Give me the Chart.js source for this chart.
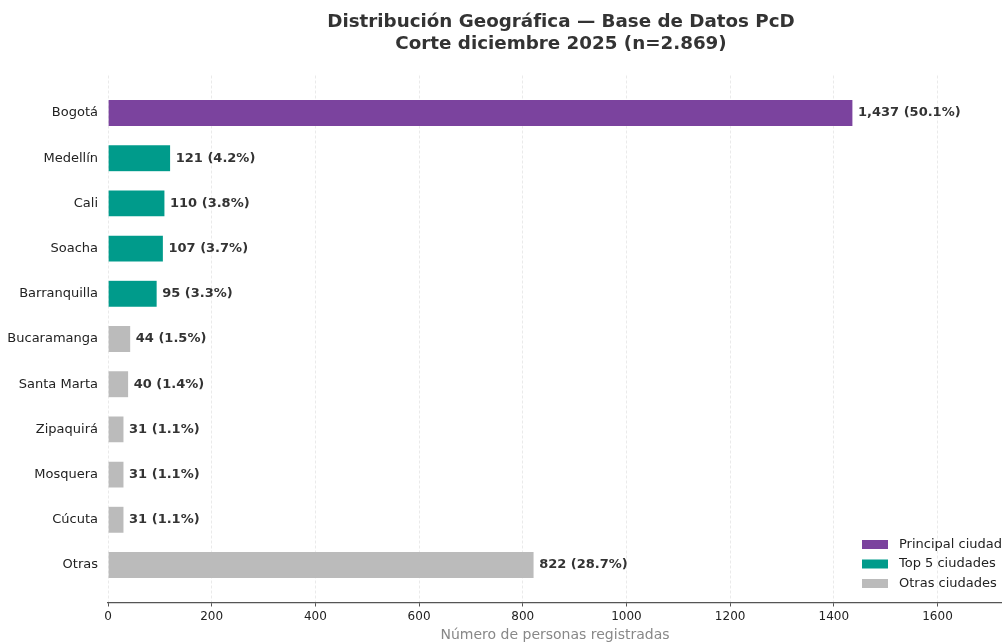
<!DOCTYPE html>
<html lang="es">
<head>
<meta charset="UTF-8">
<title>Distribución Geográfica — Base de Datos PcD</title>
<script src="https://cdn.jsdelivr.net/npm/chart.js"></script>
<style>
    body { margin: 0; background: #fff; }
    canvas { display: block; }
</style>
</head>
<body>
<canvas id="geoChart" width="1002" height="644"></canvas>
<script>
    // datos
    const cities = ["Bogotá", "Medellín", "Cali", "Soacha", "Barranquilla", "Bucaramanga",
                    "Santa Marta", "Zipaquirá", "Mosquera", "Cúcuta", "Otras"];
    const counts = [1437, 121, 110, 107, 95, 44, 40, 31, 31, 31, 822];
    const groups = ["principal", "top", "top", "top", "top", "otras",
                    "otras", "otras", "otras", "otras", "otras"];
    const totalN = 2869;
    const xTicks = [0, 200, 400, 600, 800, 1000, 1200, 1400, 1600];

    const groupNames = ["Principal ciudad", "Top 5 ciudades", "Otras ciudades"];
    const groupKeys = ["principal", "top", "otras"];
    const groupColors = { principal: "#7b439e", top: "#009b8b", otras: "#bbbbbb" };

    const titleLines = ["Distribución Geográfica — Base de Datos PcD", "Corte diciembre 2025 (n=2.869)"];
    const FONT = "'DejaVu Sans', sans-serif";

    const titlePlugin = {
        id: "mplTitle",
        afterDraw(chart) {
            const { ctx, chartArea } = chart;
            // the original axes run a little past the right edge of the picture
            const cx = (chartArea.left + chartArea.right + 12) / 2;
            ctx.save();
            ctx.font = "bold 18.3px " + FONT;
            ctx.fillStyle = "#333";
            ctx.textAlign = "center";
            ctx.textBaseline = "middle";
            ctx.fillText(titleLines[0], cx, 22);
            ctx.fillText(titleLines[1], cx, 44);
            ctx.restore();
        }
    };

    const valueLabels = {
        id: "valueLabels",
        afterDatasetsDraw(chart) {
            const { ctx } = chart;
            const meta = chart.getDatasetMeta(0);
            ctx.save();
            ctx.font = "bold 13px " + FONT;
            ctx.fillStyle = "#333";
            ctx.textAlign = "left";
            ctx.textBaseline = "middle";
            meta.data.forEach((bar, i) => {
                const v = counts[i];
                const pct = (v / totalN * 100).toFixed(1);
                ctx.fillText(v.toLocaleString("en-US") + " (" + pct + "%)", bar.x + 5, bar.y);
            });
            ctx.restore();
        }
    };

    const boxLegend = {
        id: "boxLegend",
        afterDraw(chart) {
            const { ctx, chartArea } = chart;
            const x0 = chartArea.right - 140;
            ctx.save();
            ctx.font = "13px " + FONT;
            ctx.textBaseline = "middle";
            groupKeys.forEach((k, i) => {
                const y = chartArea.bottom - 58 + i * 19.5;
                ctx.fillStyle = groupColors[k];
                ctx.fillRect(x0, y - 4.5, 26, 9);
                ctx.fillStyle = "#222";
                ctx.fillText(groupNames[i], x0 + 37, y);
            });
            ctx.restore();
        }
    };

    new Chart(document.getElementById("geoChart"), {
        type: "bar",
        data: {
            datasets: [{
                data: counts.map((v, i) => ({ x: v, y: i })),
                backgroundColor: groups.map(g => groupColors[g]),
                borderColor: "rgba(255,255,255,0.5)",
                borderWidth: 0.6,
                barPercentage: 0.6,
                categoryPercentage: 1
            }]
        },
        options: {
            indexAxis: "y",
            responsive: false,
            animation: false,
            layout: { padding: { top: 75.5, left: 0, right: 0, bottom: 0 } },
            plugins: {
                legend: { display: false },
                tooltip: { enabled: false },
                title: { display: false }
            },
            scales: {
                x: {
                    type: "linear",
                    position: "bottom",
                    min: 0,
                    max: 1724.4,
                    afterBuildTicks(scale) {
                        scale.ticks = xTicks.map(v => ({ value: v }));
                    },
                    afterFit(scale) { scale.height = 41.5; },
                    ticks: {
                        callback: v => String(v),
                        font: { family: FONT, size: 12 },
                        color: "#222",
                        padding: 3,
                        maxRotation: 0
                    },
                    grid: {
                        color: "#e4e4e4",
                        lineWidth: 0.8,
                        drawTicks: true,
                        tickLength: 4,
                        tickColor: "#555",
                        tickWidth: 1,
                        tickBorderDash: []
                    },
                    border: { display: true, color: "#555", width: 1.2, dash: [3, 2] },
                    title: {
                        display: true,
                        text: "Número de personas registradas",
                        color: "#888",
                        font: { family: FONT, size: 14 },
                        padding: { top: 0, bottom: 0 }
                    }
                },
                y: {
                    type: "linear",
                    reverse: true,
                    offset: false,
                    min: -0.83,
                    max: 10.83,
                    afterBuildTicks(scale) {
                        scale.ticks = cities.map((c, i) => ({ value: i }));
                    },
                    afterFit(scale) { scale.width = 108; },
                    ticks: {
                        callback: v => cities[v],
                        font: { family: FONT, size: 13 },
                        color: "#222",
                        padding: 10
                    },
                    grid: { display: false, drawTicks: false, offset: false },
                    border: { display: false }
                }
            }
        },
        plugins: [titlePlugin, valueLabels, boxLegend]
    });
</script>
</body>
</html>
